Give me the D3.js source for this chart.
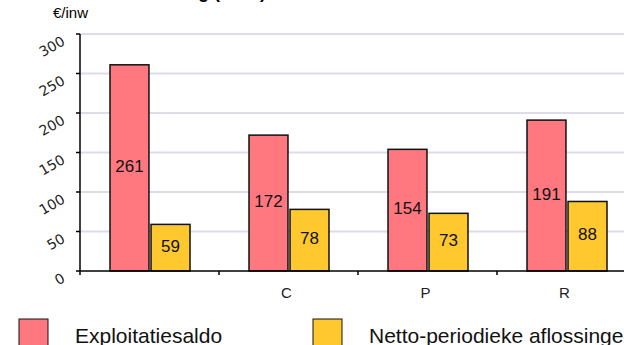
<!DOCTYPE html>
<html>
<head>
<meta charset="utf-8">
<script src="https://cdn.jsdelivr.net/npm/d3@7.9.0/dist/d3.min.js"></script>
<style>
  body { margin: 0; overflow: hidden; background: #fff; }
  svg { display: block; font-family: Arial, "Liberation Sans", sans-serif; }
</style>
</head>
<body>
<svg id="chart" width="700" height="345"></svg>
<script>
const categories = ["", "C", "P", "R"];
const seriesNames = ["Exploitatiesaldo", "Netto-periodieke aflossingen"];
const exploitatiesaldo = [261, 172, 154, 191];
const aflossingen = [59, 78, 73, 88];
const yTicks = [0, 50, 100, 150, 200, 250, 300];
const colors = ["#ff7880", "#fec82e"];

const svg = d3.select("#chart");

const y = d3.scaleLinear().domain([0, 300]).range([271, 34]);
const x = d3.scaleBand().domain(categories).range([80, 636]);
const x1 = d3.scaleBand().domain(seriesNames).range([30, 110]).paddingInner(0.05);

// title, mostly above the visible area
svg.append("text")
  .attr("x", 266).attr("y", -2)
  .attr("text-anchor", "end")
  .attr("font-size", 18).attr("font-weight", "bold")
  .text("Exploitatiesaldo en aflossing (2013)");

svg.append("text")
  .attr("x", 53).attr("y", 18)
  .attr("font-size", 15)
  .text("€/inw");

// gridlines
svg.append("g")
  .selectAll("line")
  .data(yTicks.filter(d => d > 0))
  .enter()
  .append("line")
  .attr("x1", 80).attr("x2", 700)
  .attr("y1", d => y(d)).attr("y2", d => y(d))
  .attr("stroke", "#dcdcea")
  .attr("stroke-width", 2);

// bars
const rows = categories.map((c, i) => ({ cat: c, values: [exploitatiesaldo[i], aflossingen[i]] }));
const groups = svg.append("g")
  .selectAll("g")
  .data(rows)
  .enter()
  .append("g")
  .attr("transform", d => `translate(${x(d.cat)},0)`);

groups.selectAll("rect")
  .data(d => d.values.map((v, j) => ({ name: seriesNames[j], value: v, j })))
  .enter()
  .append("rect")
  .attr("x", d => x1(d.name))
  .attr("width", x1.bandwidth())
  .attr("y", d => y(d.value))
  .attr("height", d => y(0) - y(d.value))
  .attr("fill", d => colors[d.j])
  .attr("stroke", "#111")
  .attr("stroke-width", 1.5);

groups.selectAll("text")
  .data(d => d.values.map((v, j) => ({ name: seriesNames[j], value: v })))
  .enter()
  .append("text")
  .attr("x", d => x1(d.name) + x1.bandwidth() / 2)
  .attr("y", d => (y(d.value) + y(0)) / 2 + 4)
  .attr("text-anchor", "middle")
  .attr("font-size", 17)
  .attr("fill", "#111")
  .text(d => d.value);

// y axis
svg.append("line")
  .attr("x1", 80).attr("x2", 80)
  .attr("y1", y(300)).attr("y2", y(0))
  .attr("stroke", "#000").attr("stroke-width", 1.5);

svg.append("g")
  .selectAll("line")
  .data(yTicks)
  .enter()
  .append("line")
  .attr("x1", 76).attr("x2", 80)
  .attr("y1", d => y(d)).attr("y2", d => y(d))
  .attr("stroke", "#000").attr("stroke-width", 1.5);

svg.append("g")
  .selectAll("text")
  .data(yTicks)
  .enter()
  .append("text")
  .attr("transform", d => `translate(66,${y(d) + 10}) rotate(-30)`)
  .attr("text-anchor", "end")
  .attr("font-family", "'DejaVu Sans', sans-serif")
  .attr("font-size", 14)
  .attr("fill", "#222")
  .text(d => d);

// x axis
svg.append("line")
  .attr("x1", 80).attr("x2", 700)
  .attr("y1", y(0)).attr("y2", y(0))
  .attr("stroke", "#000").attr("stroke-width", 1.5);

svg.append("g")
  .selectAll("line")
  .data(categories)
  .enter()
  .append("line")
  .attr("x1", d => x(d)).attr("x2", d => x(d))
  .attr("y1", y(0)).attr("y2", y(0) + 4)
  .attr("stroke", "#000").attr("stroke-width", 1.5);

svg.append("g")
  .selectAll("text")
  .data(categories)
  .enter()
  .append("text")
  .attr("x", d => x(d) + x.bandwidth() / 2 - 2)
  .attr("y", 298)
  .attr("text-anchor", "middle")
  .attr("font-size", 15)
  .attr("fill", "#222")
  .text(d => d);

// legend
const legend = svg.append("g")
  .selectAll("g")
  .data(seriesNames)
  .enter()
  .append("g")
  .attr("transform", (d, i) => `translate(${[19, 313][i]},319)`);

legend.append("rect")
  .attr("width", 29).attr("height", 30)
  .attr("fill", (d, i) => colors[i])
  .attr("stroke", "#111").attr("stroke-width", 1);

legend.append("text")
  .attr("x", 56)
  .attr("y", 24)
  .attr("font-size", 21)
  .attr("fill", "#111")
  .text(d => d);
</script>
</body>
</html>
